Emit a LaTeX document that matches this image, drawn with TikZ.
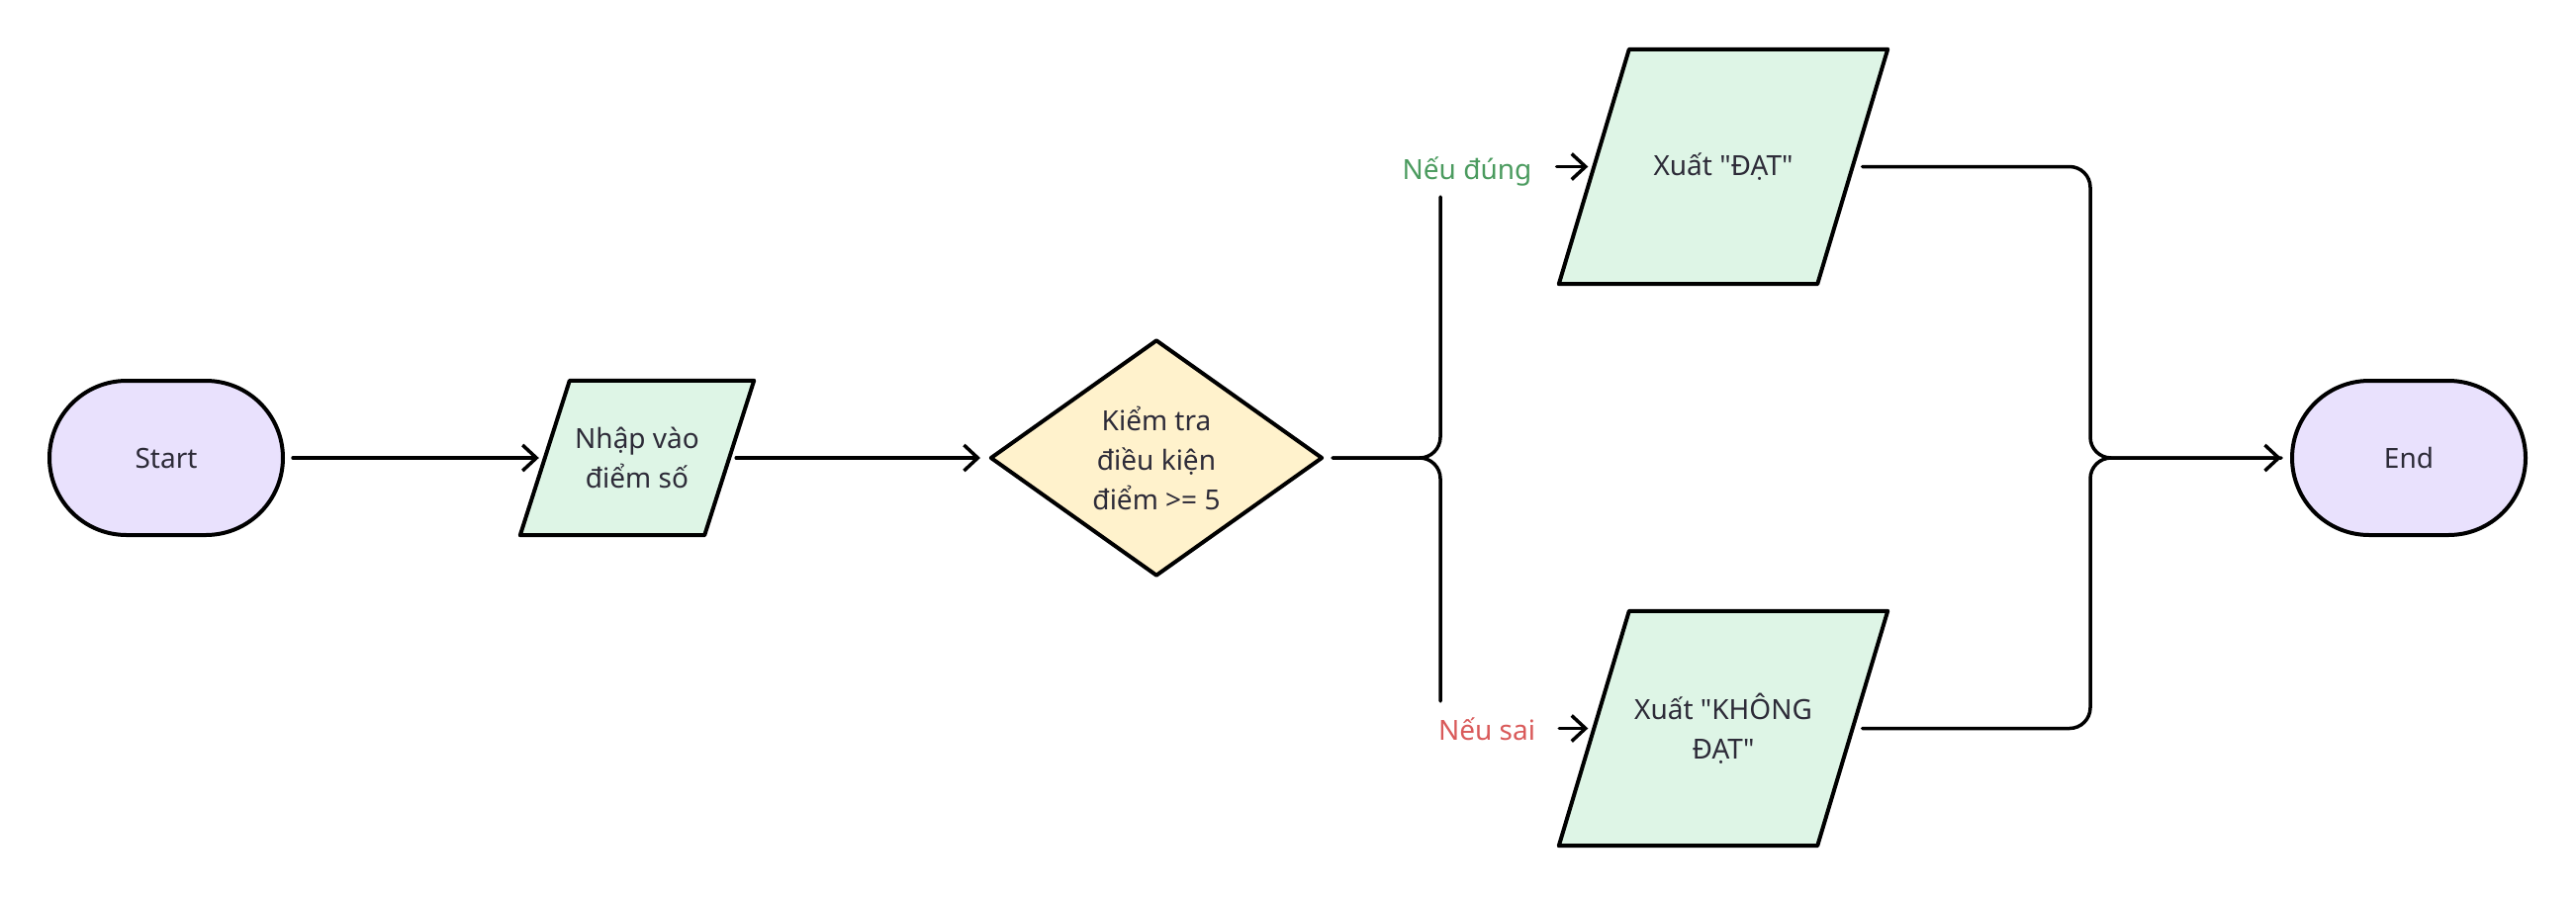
\documentclass[tikz,border=0pt]{standalone}
\usepackage{fontspec}
\setmainfont{Noto Sans}[Ligatures=TeXOff]
\usetikzlibrary{shapes.geometric,shapes.misc,arrows.meta}
\definecolor{lav}{HTML}{E9E1FD}
\definecolor{grn}{HTML}{DEF5E6}
\definecolor{yel}{HTML}{FFF2CC}
\definecolor{txt}{HTML}{2D2B38}
\definecolor{okc}{HTML}{4B9B5F}
\definecolor{noc}{HTML}{D95A5A}
\pgfdeclarelayer{bg}
\pgfsetlayers{bg,main}
\begin{document}
\begin{tikzpicture}[x=1pt,y=-1pt,
  every node/.style={font=\fontsize{28}{40}\selectfont, text=txt},
  term/.style={rounded rectangle, draw=black, fill=lav, line width=4pt,
    minimum width=236pt, minimum height=156pt, inner sep=0pt},
  iobox/.style={rectangle, draw=none, inner sep=0pt, align=center},
  ioshape/.style={draw=black, fill=grn, line width=4pt, line join=round},
  decbox/.style={diamond, draw=black, fill=yel, line width=4pt, line join=round,
    minimum width=336pt, minimum height=239pt, inner sep=0pt, align=center},
  lbl/.style={inner sep=0pt, anchor=base},
  conn/.style={line width=3.5pt, line cap=round, rounded corners=21pt},
  arr/.style={conn, -{Straight Barb[length=14pt,width=26pt]}}
]
\useasboundingbox (0,0) rectangle (2604,906);

\node[term] (st) at (168,463) {Start};
\node[iobox, minimum width=186pt, minimum height=156pt] (in) at (644,463) {Nhập vào\\điểm số};
\node[decbox] (d) at (1169,463) {Kiểm tra\\điều kiện\\điểm >= 5};
\node[iobox, minimum width=261pt, minimum height=237pt] (o1) at (1742,168.5) {Xuất "ĐẠT"};
\node[iobox, minimum width=261pt, minimum height=237pt] (o2) at (1742,736.5) {Xuất "KHÔNG\\ĐẠT"};
\node[term] (en) at (2435,463) {End};

\begin{pgfonlayer}{bg}
\draw[ioshape] ([xshift=25pt]in.north west) -- ([xshift=25pt]in.north east)
  -- ([xshift=-25pt]in.south east) -- ([xshift=-25pt]in.south west) -- cycle;
\draw[ioshape] ([xshift=35.5pt]o1.north west) -- ([xshift=35.5pt]o1.north east)
  -- ([xshift=-35.5pt]o1.south east) -- ([xshift=-35.5pt]o1.south west) -- cycle;
\draw[ioshape] ([xshift=35.5pt]o2.north west) -- ([xshift=35.5pt]o2.north east)
  -- ([xshift=-35.5pt]o2.south east) -- ([xshift=-35.5pt]o2.south west) -- cycle;
\end{pgfonlayer}

\node[lbl, text=okc] (lt) at (1483,181) {Nếu đúng};
\node[lbl, text=noc] (ls) at (1503,748) {Nếu sai};

\coordinate (bj) at (1456,463);
\coordinate (rj) at (2113,463);

\draw[arr] ([xshift=8pt]st.east) -- ([xshift=-6pt]in.west);
\draw[arr] ([xshift=7pt]in.east) -- ([xshift=-8pt]d.west);
\draw[conn] ([xshift=8pt]d.east) -- (bj) -- (bj |- 0,199);
\draw[conn] ([xshift=8pt]d.east) -- (bj) -- (bj |- 0,709);
\draw[arr] ([xshift=25pt]lt.east |- o1.west) -- ([xshift=-6pt]o1.west);
\draw[arr] ([xshift=24pt]ls.east |- o2.west) -- ([xshift=-6pt]o2.west);
\draw[arr] ([xshift=10pt]o1.east) -- (o1.east -| rj) -- (rj) -- ([xshift=-9pt]en.west);
\draw[conn] ([xshift=10pt]o2.east) -- (o2.east -| rj) -- (rj) -- ([xshift=-9pt]en.west);
\end{tikzpicture}
\end{document}
